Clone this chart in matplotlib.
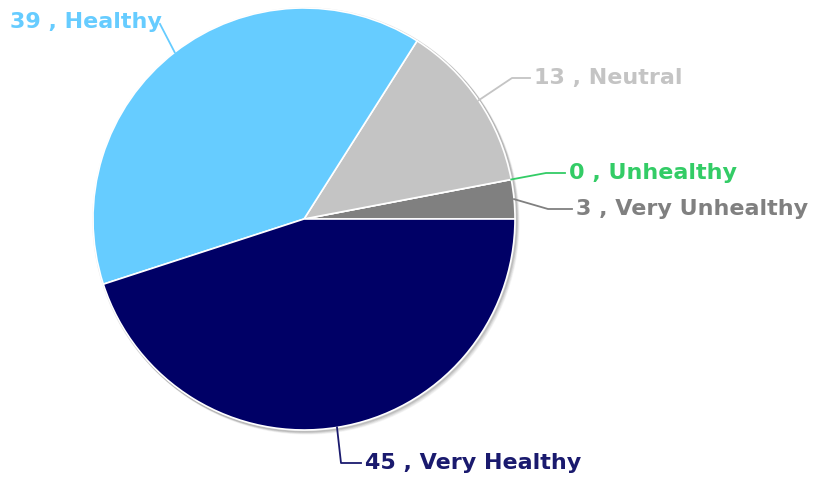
import matplotlib
matplotlib.use("Agg")

import matplotlib.pyplot as plt
import numpy as np
from matplotlib.patches import Circle

# data
categories = ["Very Unhealthy", "Unhealthy", "Neutral", "Healthy", "Very Healthy"]
values = [3, 0, 13, 39, 45]
colors = ["#808080", "#33cc66", "#c4c4c4", "#66ccff", "#000066"]
text_colors = ["#808080", "#33cc66", "#c4c4c4", "#66ccff", "#1a1a6e"]

W, H = 817, 487
fig = plt.figure(figsize=(W / 100, H / 100), dpi=100)
ax = fig.add_axes([0, 0, 1, 1])

cx, cy, r = 304, H - 219, 211

# soft shadow behind the pie
for i, a in enumerate([0.10, 0.07, 0.04]):
    ax.add_patch(Circle((cx + 1 + i, cy - 1 - i), r + 1, color="black", alpha=a, zorder=0))

wedges, _ = ax.pie(values, colors=colors, startangle=0, counterclock=True,
                   center=(cx, cy), radius=r, frame=True,
                   wedgeprops=dict(edgecolor="white", linewidth=1.2))
ax.set_xlim(0, W)
ax.set_ylim(0, H)
ax.set_aspect("equal")
ax.axis("off")

# label placement (elbow point, text start), in pixel coords from top-left
label_pos = {
    "Very Unhealthy": ((548, 209), (576, 209)),
    "Unhealthy": ((546, 173), (569, 173)),
    "Neutral": ((512, 78), (534, 78)),
    "Healthy": ((160, 24), (162, 22)),
    "Very Healthy": ((341, 463), (365, 463)),
}

for w, cat, v, tc in zip(wedges, categories, values, text_colors):
    mid = np.deg2rad((w.theta1 + w.theta2) / 2)
    ex, ey = cx + r * np.cos(mid), cy + r * np.sin(mid)
    (bx, by), (tx, ty) = label_pos[cat]
    by, ty = H - by, H - ty
    if cat == "Healthy":
        ax.plot([ex, bx], [ey, by], color=tc, lw=1.3, zorder=3)
        ax.text(tx, ty, f"{v} , {cat}", color=tc, fontsize=16, fontweight="semibold",
                ha="right", va="center", zorder=2)
    else:
        ax.plot([ex, bx, tx - 4], [ey, by, ty], color=tc, lw=1.3, zorder=3)
        ax.text(tx, ty, f"{v} , {cat}", color=tc, fontsize=16, fontweight="semibold",
                ha="left", va="center", zorder=3)

fig.savefig("out.png", dpi=100)
plt.close(fig)
